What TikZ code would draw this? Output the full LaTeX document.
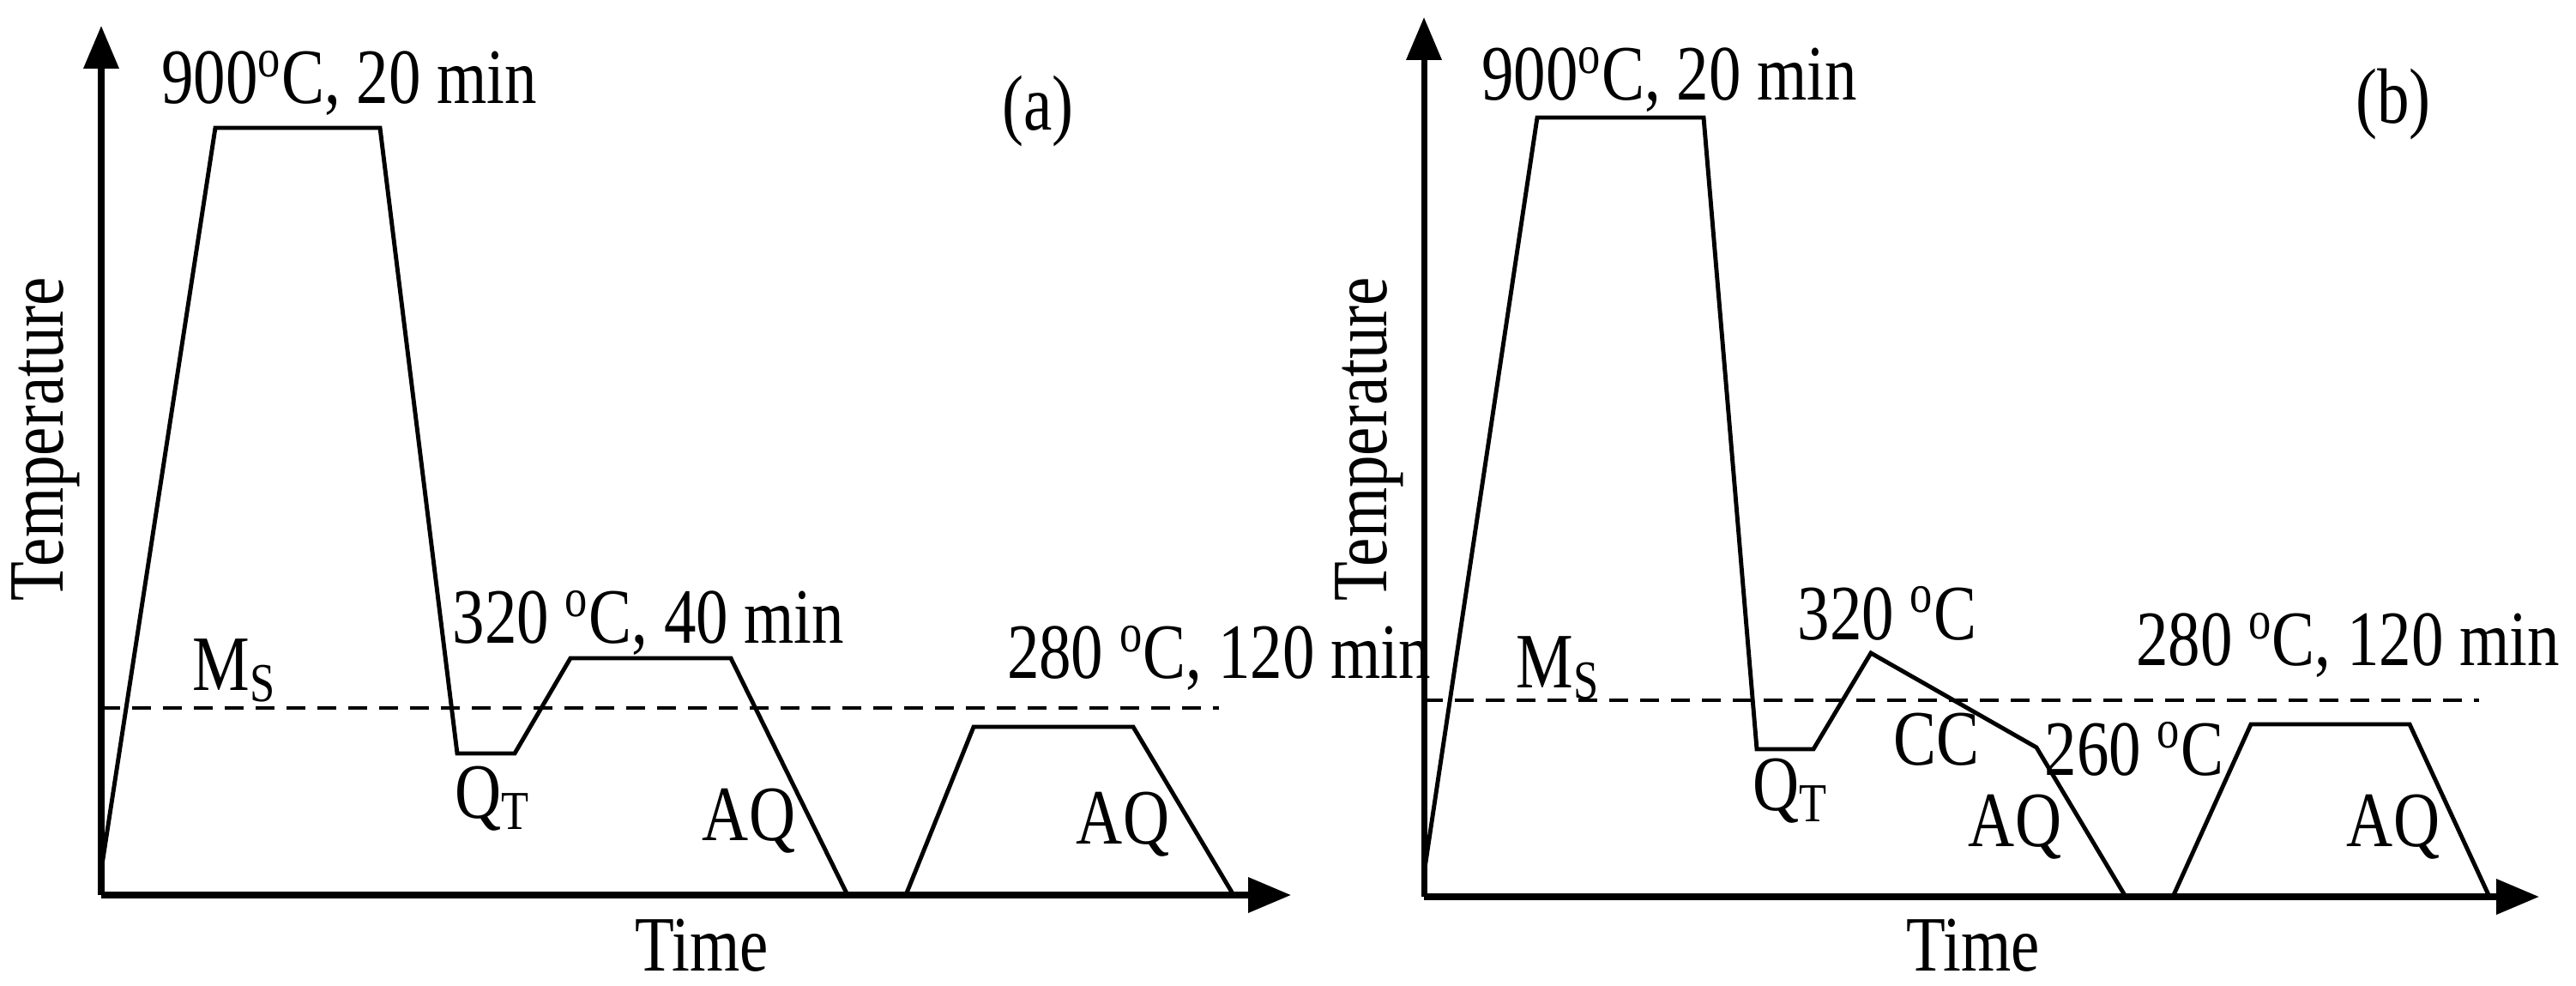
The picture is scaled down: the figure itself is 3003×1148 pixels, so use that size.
\documentclass[tikz,border=0pt]{standalone}
\usepackage{fontspec}
\setmainfont{Liberation Serif}
\usetikzlibrary{arrows.meta}
\newcommand\narrowtxt[1]{\scalebox{0.82}[1]{#1}}
\begin{document}
\begin{tikzpicture}[x=0.1mm,y=-0.1mm,
  axis/.style={line width=2pt,-{Triangle[length=5mm,width=4mm]}},
  curve/.style={line width=1.4pt,line join=miter},
  msline/.style={line width=1.3pt,dash pattern=on 2.2mm off 1.4mm},
  lbl/.style={font=\fontsize{26}{30}\selectfont,inner sep=0pt}]
\useasboundingbox (0,0) rectangle (3003,1148);
% panel a
\coordinate (ao) at (118,1043);
\coordinate (ay) at (118,30);
\coordinate (ax) at (1505,1043);
\draw[axis] (ao) -- (ay);
\draw[axis] (ao) -- (ax);
\coordinate (ams1) at (118,825);
\coordinate (ams2) at (1421,825);
\draw[msline] (ams1) -- (ams2);
\draw[curve] (118,1014) -- (251,149) -- (443,149) -- (533,878) -- (600,878) -- (665,767) -- (852,767) -- (988,1043) -- (1056,1043) -- (1135,847) -- (1321,847) -- (1438,1043);
\node[lbl] (a900) at (407,97) {\narrowtxt{900\textsuperscript{o}C, 20 min}};
\node[lbl] (atag) at (1210,130) {\narrowtxt{(a)}};
\node[lbl,rotate=90] (atemp) at (53,512) {\narrowtxt{Temperature}};
\node[lbl] (ams) at (273,781) {\narrowtxt{M\textsubscript{S}}};
\node[lbl] (aqt) at (574,931) {\narrowtxt{Q\textsubscript{T}}};
\node[lbl] (a320) at (756,726) {\narrowtxt{320 \textsuperscript{o}C, 40 min}};
\node[lbl] (aaq1) at (873,957) {\narrowtxt{AQ}};
\node[lbl] (a280) at (1421,767) {\narrowtxt{280 \textsuperscript{o}C, 120 min}};
\node[lbl] (aaq2) at (1309,961) {\narrowtxt{AQ}};
\node[lbl] (atime) at (818,1102) {\narrowtxt{Time}};
% panel b
\coordinate (bo) at (1660,1045);
\coordinate (by) at (1660,20);
\coordinate (bx) at (2960,1045);
\draw[axis] (bo) -- (by);
\draw[axis] (bo) -- (bx);
\coordinate (bms1) at (1660,816);
\coordinate (bms2) at (2890,816);
\draw[msline] (bms1) -- (bms2);
\draw[curve] (1660,1018) -- (1792,137) -- (1986,137) -- (2048,873) -- (2114,873) -- (2181,761) -- (2374,871) -- (2478,1045) -- (2533,1045) -- (2624,844) -- (2809,844) -- (2902,1045);
\node[lbl] (b900) at (1946,93) {\narrowtxt{900\textsuperscript{o}C, 20 min}};
\node[lbl] (btag) at (2790,122) {\narrowtxt{(b)}};
\node[lbl,rotate=90] (btemp) at (1596,512) {\narrowtxt{Temperature}};
\node[lbl] (bms) at (1816,778) {\narrowtxt{M\textsubscript{S}}};
\node[lbl] (bqt) at (2087,922) {\narrowtxt{Q\textsubscript{T}}};
\node[lbl] (b320) at (2200,715) {\narrowtxt{320 \textsuperscript{o}C}};
\node[lbl] (bcc) at (2257,862) {\narrowtxt{CC}};
\node[lbl] (b260) at (2488,873) {\narrowtxt{260 \textsuperscript{o}C}};
\node[lbl] (baq1) at (2349,964) {\narrowtxt{AQ}};
\node[lbl] (b280) at (2737,752) {\narrowtxt{280 \textsuperscript{o}C, 120 min}};
\node[lbl] (baq2) at (2790,964) {\narrowtxt{AQ}};
\node[lbl] (btime) at (2300,1102) {\narrowtxt{Time}};
\end{tikzpicture}
\end{document}
